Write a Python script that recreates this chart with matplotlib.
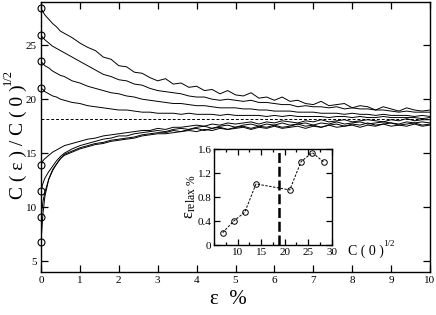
import numpy as np
import matplotlib
matplotlib.use("Agg")
import matplotlib.pyplot as plt
from matplotlib.ticker import MultipleLocator

plt.rcParams['font.family'] = ['Liberation Serif', 'DejaVu Serif']
plt.rcParams['mathtext.fontset'] = 'custom'
plt.rcParams['mathtext.rm'] = 'Liberation Serif'
plt.rcParams['mathtext.it'] = 'Liberation Serif:italic'

# strain grid (percent)
eps = np.concatenate([[0, 0.05, 0.1, 0.2, 0.3, 0.4, 0.5, 0.6, 0.8],
                      np.round(np.arange(1.0, 10.01, 0.2), 2)])

# C(eps)/C(0)^1/2 curves
c1 = [28.4, 28.1, 27.8, 27.4, 27.0, 26.7, 26.3, 26.1, 25.7, 25.2, 24.8, 24.5, 23.9, 23.7,
      23.1, 23.0, 22.5, 22.4, 22.0, 21.7, 21.9, 21.4, 21.5, 21.1, 21.2, 20.8, 20.9, 20.5,
      20.8, 20.4, 20.3, 20.6, 20.1, 20.2, 19.9, 20.2, 19.8, 19.9, 19.6, 19.5, 19.8, 19.4,
      19.5, 19.6, 19.2, 19.4, 19.3, 19.0, 19.3, 19.1, 18.9, 19.2, 19.0, 18.9, 19.0]
c2 = [25.9, 25.7, 25.5, 25.2, 24.9, 24.7, 24.5, 24.3, 23.9, 23.5, 23.1, 22.7, 22.3, 22.1,
      21.8, 21.7, 21.4, 21.3, 21.0, 20.8, 20.7, 20.6, 20.5, 20.3, 20.2, 20.2, 20.0, 19.9,
      20.0, 19.9, 19.8, 19.9, 19.7, 19.7, 19.6, 19.5, 19.5, 19.3, 19.4, 19.3, 19.3, 19.2,
      19.3, 19.1, 19.2, 19.1, 19.1, 19.0, 19.0, 18.9, 18.8, 18.9, 18.8, 18.8, 18.8]
c3 = [23.5, 23.3, 23.1, 22.9, 22.6, 22.4, 22.2, 22.1, 21.7, 21.5, 21.2, 21.0, 20.8, 20.6,
      20.5, 20.3, 20.2, 20.0, 19.9, 19.8, 19.7, 19.6, 19.6, 19.5, 19.4, 19.4, 19.3, 19.2,
      19.2, 19.2, 19.1, 19.1, 19.0, 19.0, 18.9, 18.9, 18.9, 18.8, 18.8, 18.8, 18.7, 18.7,
      18.7, 18.6, 18.7, 18.6, 18.6, 18.5, 18.6, 18.5, 18.5, 18.5, 18.4, 18.5, 18.4]
c4 = [21.0, 20.9, 20.7, 20.5, 20.3, 20.2, 20.0, 19.9, 19.7, 19.6, 19.4, 19.3, 19.2, 19.1,
      19.0, 19.0, 18.9, 18.8, 18.8, 18.7, 18.7, 18.7, 18.6, 18.7, 18.6, 18.6, 18.6, 18.5,
      18.6, 18.5, 18.5, 18.5, 18.5, 18.4, 18.5, 18.4, 18.5, 18.4, 18.4, 18.4, 18.4, 18.3,
      18.4, 18.4, 18.3, 18.4, 18.3, 18.3, 18.4, 18.3, 18.3, 18.3, 18.3, 18.2, 18.3]
c5 = [13.9, 14.3, 14.5, 14.8, 15.1, 15.3, 15.5, 15.7, 15.9, 16.1, 16.3, 16.4, 16.6, 16.7,
      16.8, 16.9, 17.0, 17.1, 17.1, 17.3, 17.2, 17.4, 17.4, 17.5, 17.6, 17.5, 17.7, 17.6,
      17.8, 17.7, 17.8, 17.9, 17.7, 17.9, 17.8, 18.0, 17.9, 17.8, 18.0, 17.9, 18.1, 17.9,
      18.0, 18.1, 17.9, 18.0, 18.1, 18.0, 17.9, 18.1, 18.0, 18.2, 18.0, 18.1, 18.1]
c6 = [11.5, 12.2, 12.7, 13.3, 13.8, 14.3, 14.7, 15.0, 15.4, 15.7, 15.9, 16.1, 16.3, 16.4,
      16.6, 16.6, 16.8, 16.9, 17.0, 17.1, 17.0, 17.2, 17.3, 17.2, 17.4, 17.5, 17.3, 17.5,
      17.6, 17.4, 17.6, 17.7, 17.5, 17.7, 17.6, 17.8, 17.6, 17.7, 17.8, 17.6, 17.8, 17.7,
      17.9, 17.7, 17.8, 17.9, 17.7, 17.8, 17.9, 17.8, 17.7, 17.9, 17.8, 17.9, 17.8]
c7 = [9.1, 10.5, 11.4, 12.6, 13.4, 14.0, 14.5, 14.9, 15.2, 15.5, 15.7, 15.9, 16.0, 16.2,
      16.3, 16.4, 16.5, 16.7, 16.8, 16.9, 16.9, 17.1, 17.0, 17.2, 17.3, 17.1, 17.3, 17.4,
      17.2, 17.4, 17.5, 17.3, 17.5, 17.4, 17.6, 17.4, 17.5, 17.7, 17.5, 17.6, 17.4, 17.6,
      17.7, 17.5, 17.7, 17.6, 17.8, 17.6, 17.7, 17.8, 17.6, 17.7, 17.8, 17.6, 17.7]
c8 = [6.8, 9.4, 11.0, 12.6, 13.5, 14.0, 14.5, 14.8, 15.1, 15.4, 15.6, 15.8, 15.9, 16.1,
      16.2, 16.3, 16.4, 16.6, 16.7, 16.8, 16.8, 16.9, 17.0, 17.1, 17.0, 17.2, 17.1, 17.3,
      17.2, 17.3, 17.4, 17.2, 17.4, 17.3, 17.5, 17.3, 17.4, 17.5, 17.3, 17.5, 17.4, 17.6,
      17.4, 17.5, 17.6, 17.4, 17.6, 17.5, 17.7, 17.5, 17.6, 17.5, 17.7, 17.5, 17.6]
curves = [c1, c2, c3, c4, c5, c6, c7, c8]
plateau = 18.2

# inset: relaxation strain vs C(0)^1/2
c0_sqrt = [6.8, 9.1, 11.5, 13.9, 21.1, 23.5, 25.9, 28.4]
eps_relax = [0.21, 0.40, 0.55, 1.02, 0.92, 1.39, 1.54, 1.38]
c0_crit = 18.9


def fpos(x, y):
    # pixel position -> figure fraction
    return x / 436, 1 - y / 315


fig = plt.figure(figsize=(4.36, 3.15), dpi=100)
ax = fig.add_axes([41 / 436, 43 / 315, 389 / 436, 270 / 315])

for c in curves:
    ax.plot(eps, c, color='black', lw=0.7)
    ax.plot([eps[0]], [c[0]], 'o', mfc='none', mec='black', ms=5, mew=0.8, clip_on=False)
ax.axhline(plateau, color='black', lw=0.7, dashes=(3, 2))

ax.set_xlim(0, 10)
ax.set_ylim(4, 29)
ax.xaxis.set_major_locator(MultipleLocator(1))
ax.yaxis.set_major_locator(MultipleLocator(5))
ax.tick_params(direction='in', top=True, right=True, length=5, width=0.9,
               labelsize=8, pad=3)
for s in ax.spines.values():
    s.set_linewidth(1.0)

fig.text(*fpos(18, 142), "C ( ε ) / C ( 0 )", rotation=90, ha='center', va='center', fontsize=14)
fig.text(*fpos(8, 77), "1/2", rotation=90, ha='center', va='center', fontsize=9)
fig.text(*fpos(228, 300), "ε  %", ha='center', va='center', fontsize=15)

# inset
axi = fig.add_axes([214.3 / 436, (315 - 245.3) / 315, 117.2 / 436, 96.3 / 315])
axi.plot(c0_sqrt, eps_relax, color='black', lw=0.7, dashes=(2.5, 1.5),
         marker='o', mfc='none', mec='black', ms=4, mew=0.7)
axi.axvline(c0_crit, color='black', lw=1.8, dashes=(4, 1.5))
axi.set_xlim(5, 30)
axi.set_ylim(0, 1.6)
axi.set_xticks([10, 15, 20, 25, 30])
axi.xaxis.set_minor_locator(MultipleLocator(2.5))
axi.set_yticks([0, 0.4, 0.8, 1.2, 1.6])
axi.set_yticklabels(['0', '0.4', '0.8', '1.2', '1.6'])
axi.tick_params(which='both', direction='in', top=True, right=True, labelsize=8, pad=2)
axi.tick_params(which='major', length=4, width=0.9)
axi.tick_params(which='minor', length=2.5, width=0.9)
for s in axi.spines.values():
    s.set_linewidth(1.0)

fig.text(*fpos(190, 197), r'$\mathrm{ε}_{\mathrm{relax}\ \%}$', rotation=90,
         ha='center', va='center', fontsize=12)
fig.text(*fpos(348, 251), "C ( 0 )", ha='left', va='center', fontsize=10)
fig.text(*fpos(383, 244), "1/2", ha='left', va='center', fontsize=6.5)

fig.savefig('out.png', dpi=100)
